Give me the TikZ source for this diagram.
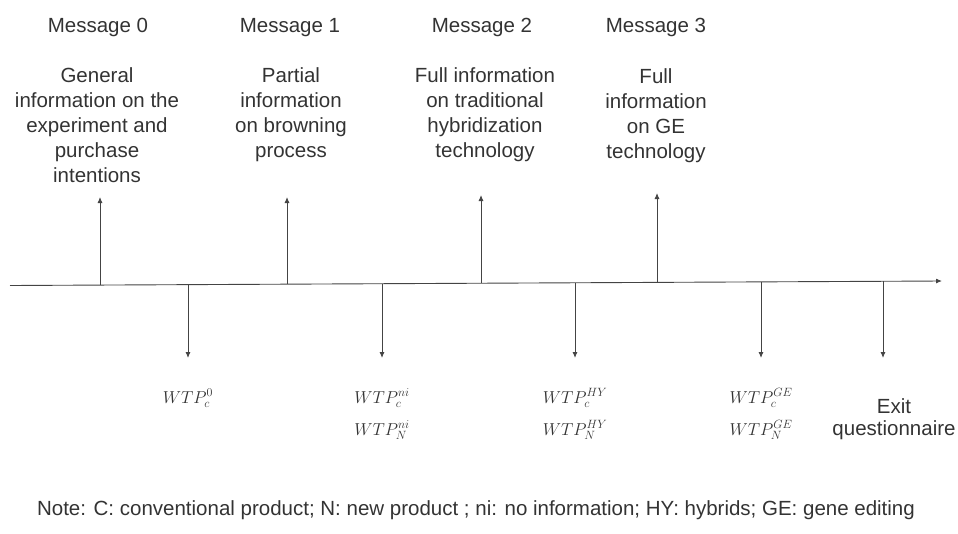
\documentclass[tikz,border=0pt]{standalone}
\usepackage{fontspec}
\setmainfont{Liberation Sans}
\usetikzlibrary{arrows.meta}
\definecolor{txt}{HTML}{333333}
\definecolor{ln}{HTML}{444444}
\begin{document}
\begin{tikzpicture}[x=1pt,y=-1pt,
  lbl/.style={inner sep=0pt,anchor=base,align=center,text=txt,font=\fontsize{20.5}{25}\selectfont},
  mth/.style={inner sep=0pt,anchor=base,align=center,text=txt,font=\fontsize{17}{32}\selectfont},
  arr/.style={draw=ln,line width=0.9pt,-{Latex[length=6pt,width=5pt]}}]
\useasboundingbox (0,0) rectangle (958,533);
% axis
\coordinate (s) at (10,285.5);
\coordinate (e) at (942,281);
\draw[arr] (s) -- (e);
% up arrows
\foreach \n/\x/\y/\t in {u0/100/285.1/197, u1/287/284.2/197, u2/481/283.2/195, u3/657/282.4/193}{
  \coordinate (\n a) at (\x,\y);
  \coordinate (\n b) at (\x,\t);
  \draw[arr] (\n a) -- (\n b);
}
% down arrows
\foreach \n/\x/\y in {d0/188/284.6, d1/382/283.7, d2/575/282.8, d3/761/281.9, d4/883/281.3}{
  \coordinate (\n a) at (\x,\y);
  \coordinate (\n b) at (\x,358);
  \draw[arr] (\n a) -- (\n b);
}
% headings
\node[lbl] (m0) at (98,32) {Message 0};
\node[lbl] (m1) at (290,32) {Message 1};
\node[lbl] (m2) at (482,32) {Message 2};
\node[lbl] (m3) at (656,32) {Message 3};
% descriptions (base anchor = last line baseline)
\node[lbl] (t0) at (97,182) {General\\information on the\\experiment and\\purchase\\intentions};
\node[lbl] (t1) at (291,157) {Partial\\information\\on browning\\process};
\node[lbl] (t2) at (485,157) {Full information\\on traditional\\hybridization\\technology};
\node[lbl] (t3) at (656,158) {Full\\information\\on GE\\technology};
% WTP labels
\node[mth] (w0) at (188,403) {$WTP_c^{0}$};
\node[mth] (w1) at (382,435) {$WTP_c^{ni}$\\$WTP_N^{ni}$};
\node[mth] (w2) at (575,435) {$WTP_c^{HY}$\\$WTP_N^{HY}$};
\node[mth] (w3) at (761,435) {$WTP_c^{GE}$\\$WTP_N^{GE}$};
\node[lbl,font=\fontsize{20.5}{22}\selectfont] (ex) at (894,435) {Exit\\questionnaire};
% note
\node[lbl] (note) at (476,515) {Note: C: conventional product; N: new product ; ni: no information; HY: hybrids; GE: gene editing};
\end{tikzpicture}
\end{document}
